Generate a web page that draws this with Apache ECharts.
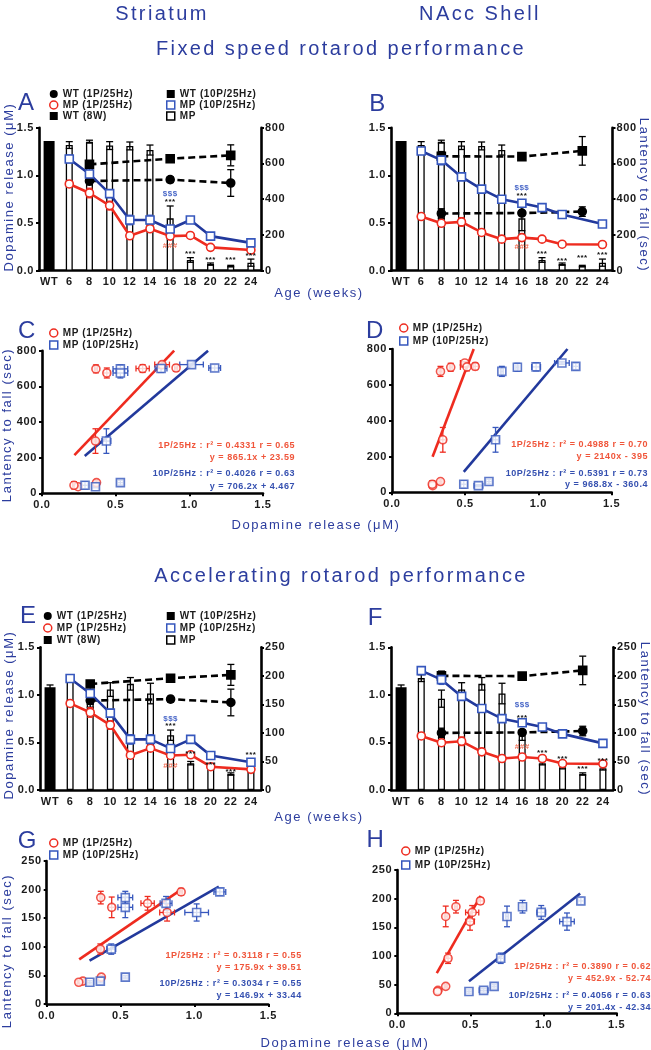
<!DOCTYPE html>
<html><head><meta charset="utf-8">
<script src="https://cdn.jsdelivr.net/npm/echarts@6/dist/echarts.min.js"></script>
<style>html,body{margin:0;padding:0;background:#fff}#c{width:651px;height:1050px}</style>
</head><body><div id="c"></div><script>
// ---------------- data ----------------
const ageCats = ['WT','6','8','10','12','14','16','18','20','22','24'];
// Dopamine release (uM) – striatum (A, E -> C, G)
const strWT1P     = [null,null,0.94,null,null,null,0.955,null,null,0.92,null];
const strWT1PErr  = [null,null,0.04,null,null,null,0.03,null,null,0.14,null];
const strWT10P    = [null,null,1.115,null,null,null,1.175,null,null,1.21,null];
const strWT10PErr = [null,null,0.02,null,null,null,0.02,null,null,0.11,null];
const strMP1P     = [null,0.91,0.815,0.683,0.366,0.44,0.363,0.37,0.245,null,0.217];
const strMP1PErr  = [null,0.01,0.05,0.045,0.01,0.02,0.01,0.01,0.01,null,0.01];
const strMP10P    = [null,1.172,1.015,0.808,0.532,0.532,0.437,0.532,0.363,null,0.292];
const strMP10PErr = [null,0.04,0.08,0.04,0.05,0.05,0.03,0.02,0.02,null,0.02];
// Dopamine release (uM) – NAcc shell (B, F -> D, H)
const nacWT1P     = [null,null,0.60,null,null,null,0.605,null,null,0.62,null];
const nacWT1PErr  = [null,null,0.05,null,null,null,0.02,null,null,0.05,null];
const nacWT10P    = [null,null,1.20,null,null,null,1.197,null,null,1.257,null];
const nacWT10PErr = [null,null,0.05,null,null,null,0.01,null,null,0.15,null];
const nacMP1P     = [null,0.568,0.497,0.512,0.401,0.331,0.347,0.331,0.278,null,0.275];
const nacMP1PErr  = [null,0.02,0.03,0.045,0.01,0.01,0.02,0.01,0.01,null,0.01];
const nacMP10P    = [null,1.255,1.16,0.984,0.856,0.75,0.707,0.662,0.59,null,0.49];
const nacMP10PErr = [null,0.02,0.05,0.03,0.01,0.01,0.02,0.02,0.03,null,0.02];
// Latency to fall (sec); index 0 = WT (8W)
const fixedLat    = [725,703,722,700,698,675,293,60,37,26,45];
const fixedLatErr = [0,19,8,22,22,28,69,13,6,4,20];
const accelLat    = [180,196,160,176,186,169,96,47,40,28,38];
const accelLatErr = [4,6,15,12,11,18,9,3,3,2,3];
// significance marks
const annoCats = ['16','16','16','18','20','22','24'];
const annoText = ['$$$','***','###','***','***','***','***'];
const annoYA = [0.811,0.724,0.259,0.182,0.119,0.119,0.154];
const annoYB = [0.874,0.787,0.252,0.182,0.101,0.14,0.164];
const annoYE = [0.753,0.673,0.256,0.385,0.27,0.193,0.375];
const annoYF = [0.894,0.764,0.449,0.396,0.333,0.218,0.305];
// regression lines (endpoints) and labels
const regC1 = [[0.22,214],[0.897,800]], regC10 = [[0.29,209],[1.127,800]];
const regD1 = [[0.277,198],[0.558,800]], regD10 = [[0.49,114],[1.198,800]];
const regG1 = [[0.22,78],[0.91,200]],   regG10 = [[0.29,76],[1.165,205]];
const regH1 = [[0.27,70],[0.57,205]],   regH10 = [[0.49,56],[1.25,209]];
const regTextC = ['1P/25Hz : r² = 0.4331 r = 0.65','y = 865.1x + 23.59','10P/25Hz : r² = 0.4026 r = 0.63','y = 706.2x + 4.467'];
const regTextD = ['1P/25Hz : r² = 0.4988 r = 0.70','y = 2140x - 395','10P/25Hz : r² = 0.5391 r = 0.73','y = 968.8x - 360.4'];
const regTextG = ['1P/25Hz : r² = 0.3118 r = 0.55','y = 175.9x + 39.51','10P/25Hz : r² = 0.3034 r = 0.55','y = 146.9x + 33.44'];
const regTextH = ['1P/25Hz : r² = 0.3890 r = 0.62','y = 452.9x - 52.74','10P/25Hz : r² = 0.4056 r = 0.63','y = 201.4x - 42.34'];

// ---------------- letter spacing (the figure uses spaced lettering) ----------------
(function(){
  const P = CanvasRenderingContext2D.prototype, of = P.fillText;
  P.fillText = function(t,x,y,m){
    const mm = /(\d+(?:\.\d+)?)px/.exec(this.font);
    const has = 'letterSpacing' in this;
    if (mm && has) { const s = parseFloat(mm[1]); this.letterSpacing = (s >= 12 ? s*0.12 : s*0.06).toFixed(2)+'px'; }
    const r = (m === undefined) ? of.call(this,t,x,y) : of.call(this,t,x,y,m);
    if (has) this.letterSpacing = '0px';
    return r;
  };
})();

// ---------------- styling ----------------
const RED='#ee2b1f', RED_TXT='#f0553a', BLUE_LINE='#22399c', BLUE_MK='#3657bd', BLUE_TXT='#3550b0', TITLE='#2c3d9e';
const FF = 'Liberation Sans';
const tickFont = {color:'#1b1b1b', fontSize:11, fontWeight:'bold', fontFamily:FF};
const axLine = {show:true, onZero:false, lineStyle:{color:'#000', width:2.6}};
const axTick = {show:true, length:3, lineStyle:{color:'#000', width:2}};
const grids=[], xAxes=[], yAxes=[], series=[], legends=[], gfx=[];

function errCatRender(color, capHalf){
  return function(p, api){
    const i=api.value(0), v=api.value(1), e=api.value(2);
    const a=api.coord([i, v+e]), b=api.coord([i, v-e]);
    const st=()=>({stroke:color, lineWidth:1.3});
    return {type:'group', children:[
      {type:'line', shape:{x1:a[0],y1:a[1],x2:b[0],y2:b[1]}, style:st()},
      {type:'line', shape:{x1:a[0]-capHalf,y1:a[1],x2:a[0]+capHalf,y2:a[1]}, style:st()},
      {type:'line', shape:{x1:b[0]-capHalf,y1:b[1],x2:b[0]+capHalf,y2:b[1]}, style:st()}]};
  };
}
function errXYRender(color){
  return function(p, api){
    const x=api.value(0), y=api.value(1), xe=api.value(2), ye=api.value(3);
    const l=api.coord([x-xe,y]), r=api.coord([x+xe,y]), t=api.coord([x,y+ye]), b=api.coord([x,y-ye]);
    const st=()=>({stroke:color, lineWidth:1.3}); const h=3;
    return {type:'group', children:[
      {type:'line', shape:{x1:l[0],y1:l[1],x2:r[0],y2:r[1]}, style:st()},
      {type:'line', shape:{x1:l[0],y1:l[1]-h,x2:l[0],y2:l[1]+h}, style:st()},
      {type:'line', shape:{x1:r[0],y1:r[1]-h,x2:r[0],y2:r[1]+h}, style:st()},
      {type:'line', shape:{x1:t[0],y1:t[1],x2:b[0],y2:b[1]}, style:st()},
      {type:'line', shape:{x1:t[0]-h,y1:t[1],x2:t[0]+h,y2:t[1]}, style:st()},
      {type:'line', shape:{x1:b[0]-h,y1:b[1],x2:b[0]+h,y2:b[1]}, style:st()}]};
  };
}
function catErrData(vals, errs){
  const out=[]; vals.forEach((v,i)=>{ if(v!=null && errs[i]) out.push([i,v,errs[i]]); }); return out;
}
function lineSeries(name, xi, yi, data, lineColor, mkColor, symbol, dashed, filled){
  return {type:'line', name, xAxisIndex:xi, yAxisIndex:yi, data, connectNulls:true, z:5,
    symbol, symbolSize:8, showSymbol:true, silent:true,
    lineStyle:{color:lineColor, width:2.6, type: dashed?[7,4]:'solid'},
    itemStyle:{color: filled?mkColor:'#fff', borderColor:mkColor, borderWidth:1.6}};
}

function addTimePanel(rect, d, lat, latErr, rmax, rint, annoY){
  const gi=grids.length;
  grids.push({left:rect[0], top:rect[1], width:rect[2], height:rect[3]});
  const xi=xAxes.length;
  xAxes.push({type:'category', gridIndex:gi, data:ageCats, boundaryGap:true, axisLine:axLine,
    axisTick:{show:false}, axisLabel:Object.assign({}, tickFont, {interval:0, margin:6})});
  const yl=yAxes.length, yr=yl+1;
  yAxes.push({type:'value', gridIndex:gi, position:'left', min:0, max:1.5, interval:0.5, axisLine:axLine, axisTick:axTick,
    axisLabel:Object.assign({}, tickFont, {margin:5, formatter:v=>v.toFixed(1)}), splitLine:{show:false}});
  yAxes.push({type:'value', gridIndex:gi, position:'right', min:0, max:rmax, interval:rint, axisLine:axLine, axisTick:axTick,
    axisLabel:Object.assign({}, tickFont, {margin:4}), splitLine:{show:false}});
  // WT (8W) black bar
  series.push({type:'custom', name:'WT (8W)', xAxisIndex:xi, yAxisIndex:yr, z:2, silent:true,
    itemStyle:{color:'#000'}, data:[[0, lat[0]]],
    renderItem:(p,api)=>{ const t=api.coord([api.value(0), api.value(1)]), b=api.coord([api.value(0),0]);
      return {type:'rect', shape:{x:t[0]-5.5, y:t[1], width:11, height:b[1]-t[1]}, style:{fill:'#000'}}; }});
  // MP open bars
  series.push({type:'bar', name:'MP', xAxisIndex:xi, yAxisIndex:yr, barWidth:7, z:2, silent:true,
    data: lat.map((v,i)=> i===0 ? null : v),
    itemStyle:{color:'#fff', borderColor:'#000', borderWidth:1.3}});
  series.push({type:'custom', xAxisIndex:xi, yAxisIndex:yr, z:3, silent:true,
    data: catErrData(lat, latErr), renderItem: errCatRender('#000', 3.5)});
  // lines
  series.push(lineSeries('WT (1P/25Hz)', xi, yl, d.wt1, '#000', '#000', 'circle', true, true));
  series.push(lineSeries('WT (10P/25Hz)', xi, yl, d.wt10, '#000', '#000', 'rect', true, true));
  series.push(lineSeries('MP (1P/25Hz)', xi, yl, d.mp1, RED, RED, 'circle', false, false));
  series.push(lineSeries('MP (10P/25Hz)', xi, yl, d.mp10, BLUE_LINE, BLUE_MK, 'rect', false, false));
  series.push({type:'custom', xAxisIndex:xi, yAxisIndex:yl, z:4, silent:true, data:catErrData(d.wt1, d.wt1e), renderItem:errCatRender('#000',3.5)});
  series.push({type:'custom', xAxisIndex:xi, yAxisIndex:yl, z:4, silent:true, data:catErrData(d.wt10, d.wt10e), renderItem:errCatRender('#000',3.5)});
  series.push({type:'custom', xAxisIndex:xi, yAxisIndex:yl, z:4, silent:true, data:catErrData(d.mp1, d.mp1e), renderItem:errCatRender(RED,3)});
  series.push({type:'custom', xAxisIndex:xi, yAxisIndex:yl, z:4, silent:true, data:catErrData(d.mp10, d.mp10e), renderItem:errCatRender(BLUE_MK,3)});
  // significance marks
  series.push({type:'custom', xAxisIndex:xi, yAxisIndex:yl, z:7, silent:true,
    data: annoCats.map((c,k)=>[ageCats.indexOf(c), annoY[k]]),
    renderItem:(p,api)=>{ const t=annoText[p.dataIndex]; const c=api.coord([api.value(0), api.value(1)]);
      const col = t==='$$$' ? '#4a68c8' : (t==='###' ? '#f06a50' : '#111');
      return {type:'text', x:c[0], y:c[1], style:{text:t, fill:col, font:'bold 8px '+FF,
        align:'center', verticalAlign:'middle', textAlign:'center', textVerticalAlign:'middle'}}; }});
}

function addScatterPanel(rect, ymax, yint, d, lat, latErr, reg1, reg10){
  const gi=grids.length;
  grids.push({left:rect[0], top:rect[1], width:rect[2], height:rect[3]});
  const xi=xAxes.length, yi=yAxes.length;
  xAxes.push({type:'value', gridIndex:gi, min:0, max:1.5, interval:0.5, axisLine:axLine, axisTick:axTick,
    axisLabel:Object.assign({}, tickFont, {margin:6, formatter:v=>v.toFixed(1)}), splitLine:{show:false}});
  yAxes.push({type:'value', gridIndex:gi, min:0, max:ymax, interval:yint, axisLine:axLine, axisTick:axTick,
    axisLabel:Object.assign({}, tickFont, {margin:5}), splitLine:{show:false}});
  const red=[], blue=[];
  for (let i=1;i<ageCats.length;i++){
    if (d.mp1[i]!=null) red.push([d.mp1[i], lat[i], d.mp1e[i]||0, latErr[i]||0]);
    if (d.mp10[i]!=null) blue.push([d.mp10[i], lat[i], d.mp10e[i]||0, latErr[i]||0]);
  }
  series.push({type:'line', xAxisIndex:xi, yAxisIndex:yi, data:reg1, symbol:'none', z:3, silent:true, lineStyle:{color:RED, width:2.6}});
  series.push({type:'line', xAxisIndex:xi, yAxisIndex:yi, data:reg10, symbol:'none', z:3, silent:true, lineStyle:{color:BLUE_LINE, width:2.6}});
  series.push({type:'custom', xAxisIndex:xi, yAxisIndex:yi, z:4, silent:true, data:red, renderItem:errXYRender(RED)});
  series.push({type:'custom', xAxisIndex:xi, yAxisIndex:yi, z:4, silent:true, data:blue, renderItem:errXYRender(BLUE_MK)});
  series.push({type:'scatter', name:'MP (1P/25Hz)', xAxisIndex:xi, yAxisIndex:yi, z:5, silent:true, symbol:'circle', symbolSize:8,
    data:red.map(r=>[r[0],r[1]]), itemStyle:{color:'#fff', borderColor:RED, borderWidth:1.6}});
  series.push({type:'scatter', name:'MP (10P/25Hz)', xAxisIndex:xi, yAxisIndex:yi, z:5, silent:true, symbol:'rect', symbolSize:8,
    data:blue.map(r=>[r[0],r[1]]), itemStyle:{color:'#fff', borderColor:BLUE_MK, borderWidth:1.6}});
}

const STR = {wt1:strWT1P, wt1e:strWT1PErr, wt10:strWT10P, wt10e:strWT10PErr, mp1:strMP1P, mp1e:strMP1PErr, mp10:strMP10P, mp10e:strMP10PErr};
const NAC = {wt1:nacWT1P, wt1e:nacWT1PErr, wt10:nacWT10P, wt10e:nacWT10PErr, mp1:nacMP1P, mp1e:nacMP1PErr, mp10:nacMP10P, mp10e:nacMP10PErr};

addTimePanel([39,127.7,222,143], STR, fixedLat, fixedLatErr, 800, 200, annoYA);     // A
addTimePanel([391,127.7,221.5,143], NAC, fixedLat, fixedLatErr, 800, 200, annoYB);  // B
addScatterPanel([42,350.7,221,142.6], 800, 200, STR, fixedLat, fixedLatErr, regC1, regC10); // C
addScatterPanel([392,349,219.7,143.3], 800, 200, NAC, fixedLat, fixedLatErr, regD1, regD10); // D
addTimePanel([40,647.3,221,142.7], STR, accelLat, accelLatErr, 250, 50, annoYE);    // E
addTimePanel([391,647.3,222,142.7], NAC, accelLat, accelLatErr, 250, 50, annoYF);   // F
addScatterPanel([46.7,861,221.6,143], 250, 50, STR, accelLat, accelLatErr, regG1, regG10);  // G
addScatterPanel([397.3,870,219.4,143.3], 250, 50, NAC, accelLat, accelLatErr, regH1, regH10); // H

// ---------------- legends ----------------
const LG = {
  wt1:  {name:'WT (1P/25Hz)', icon:'circle', itemStyle:{color:'#000', borderColor:'#000', borderWidth:0}},
  mp1:  {name:'MP (1P/25Hz)', icon:'circle', itemStyle:{color:'#fff', borderColor:RED, borderWidth:1.5}},
  wt8:  {name:'WT (8W)', icon:'rect', itemStyle:{color:'#000', borderColor:'#000', borderWidth:0}},
  wt10: {name:'WT (10P/25Hz)', icon:'rect', itemStyle:{color:'#000', borderColor:'#000', borderWidth:0}},
  mp10: {name:'MP (10P/25Hz)', icon:'rect', itemStyle:{color:'#fff', borderColor:BLUE_MK, borderWidth:1.5}},
  mp:   {name:'MP', icon:'rect', itemStyle:{color:'#fff', borderColor:'#000', borderWidth:1.5}}
};
function lg(left, top, gap, items){
  return {left, top, orient:'vertical', padding:0, itemGap:gap, itemWidth:8, itemHeight:8, selectedMode:false,
    textStyle:{fontSize:10, fontWeight:'bold', color:'#1b1b1b', fontFamily:FF, lineHeight:10}, data:items};
}
legends.push(lg(49, 89, 1, [LG.wt1, LG.mp1, LG.wt8]), lg(166, 89, 1, [LG.wt10, LG.mp10, LG.mp]));
legends.push(lg(43, 611, 2, [LG.wt1, LG.mp1, LG.wt8]), lg(166, 611, 2, [LG.wt10, LG.mp10, LG.mp]));
legends.push(lg(49, 328, 2, [LG.mp1, LG.mp10]), lg(399, 323, 3, [LG.mp1, LG.mp10]));
legends.push(lg(49, 838, 2, [LG.mp1, LG.mp10]), lg(401, 846, 4, [LG.mp1, LG.mp10]));

// ---------------- texts ----------------
function txt(text, x, y, font, fill, align, rot){
  return {type:'text', x, y, rotation:rot||0, silent:true,
    style:{text, font, fill, align:align||'center', verticalAlign:'middle', textAlign:align||'center', textVerticalAlign:'middle'}};
}
const titleFont = '20px '+FF, letterFont = '24px '+FF, axFont = '13px '+FF, regFont = 'bold 9px '+FF;
gfx.push(txt('Striatum',162,14,titleFont,TITLE), txt('NAcc Shell',480,14,titleFont,TITLE));
gfx.push(txt('Fixed speed rotarod performance',341,49,titleFont,TITLE));
gfx.push(txt('Accelerating rotarod performance',341,576,titleFont,TITLE));
[['A',27.5,103.5],['B',378.7,104],['C',28,331.5],['D',376,331.5],['E',29.5,616.5],['F',376.5,618],['G',28.5,841],['H',376.5,840]]
  .forEach(a=>gfx.push(txt(a[0],a[1],a[2],letterFont,TITLE)));
gfx.push(txt('Dopamine release (μM)',9,187,axFont,TITLE,'center',Math.PI/2));
gfx.push(txt('Dopamine release (μM)',9,715,axFont,TITLE,'center',Math.PI/2));
gfx.push(txt('Lantency to fall (sec)',7,425,axFont,TITLE,'center',Math.PI/2));
gfx.push(txt('Lantency to fall (sec)',7,951,axFont,TITLE,'center',Math.PI/2));
gfx.push(txt('Lantency to fall (sec)',644,195,axFont,TITLE,'center',-Math.PI/2));
gfx.push(txt('Lantency to fall (sec)',645,719,axFont,TITLE,'center',-Math.PI/2));
gfx.push(txt('Age (weeks)',319,293,axFont,TITLE), txt('Age (weeks)',319,817,axFont,TITLE));
gfx.push(txt('Dopamine release (μM)',316,525,axFont,TITLE), txt('Dopamine release (μM)',345,1043,axFont,TITLE));
function regTexts(lines, xr, ys){
  lines.forEach((t,k)=>gfx.push(txt(t, xr, ys[k], regFont, k<2?RED_TXT:BLUE_TXT, 'right')));
}
regTexts(regTextC, 295, [445.7,458,474,486.7]);
regTexts(regTextD, 648, [444.3,456.7,473.3,485]);
regTexts(regTextG, 301.7, [956,967.7,984,995.7]);
regTexts(regTextH, 651, [966.7,979,995.7,1007.3]);

const chart = echarts.init(document.getElementById('c'), null, {renderer:'canvas'});
chart.setOption({
  animation:false, backgroundColor:'#fff',
  grid:grids, xAxis:xAxes, yAxis:yAxes, series, legend:legends,
  graphic:{elements:gfx}
});
</script></body></html>
